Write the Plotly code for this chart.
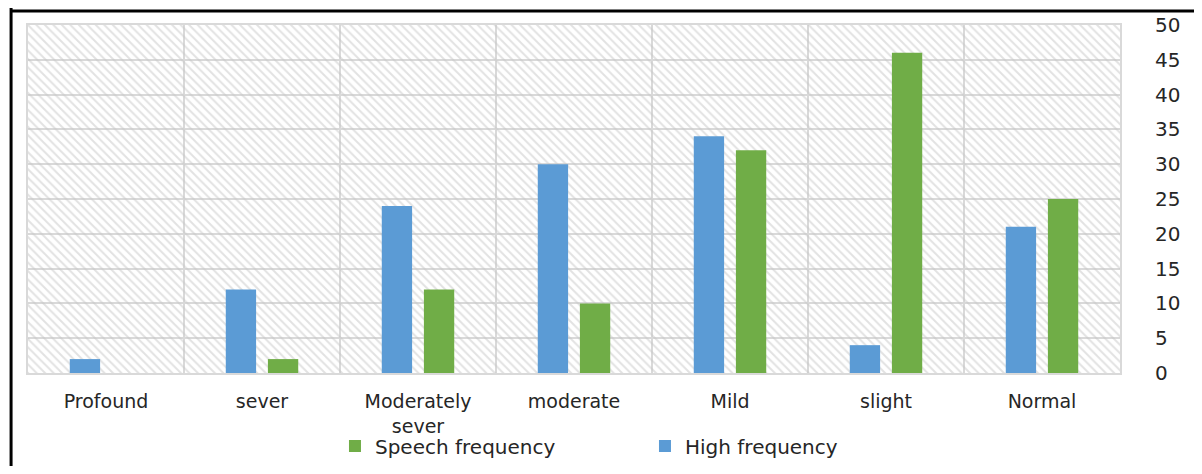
import plotly.graph_objects as go

categories = ["Profound", "sever", "Moderately<br>sever", "moderate", "Mild", "slight", "Normal"]
high_frequency = [2, 12, 24, 30, 34, 4, 21]
speech_frequency = [0, 2, 12, 10, 32, 46, 25]
y_max = 50
y_ticks = [0, 5, 10, 15, 20, 25, 30, 35, 40, 45, 50]

FONT = "DejaVu Sans"
BLUE = "#5b9bd5"
GREEN = "#70ad47"
GRID = "#d9d9d9"
TXT = "#262626"

fig = go.Figure()

# hatched plot-area background (decorative)
fig.add_trace(go.Bar(
    x=[0.5], y=[y_max], width=[1], xaxis="x", yaxis="y",
    marker=dict(color="rgba(0,0,0,0)", line=dict(width=0),
                pattern=dict(shape="\\", fgcolor="#c6c6c6", bgcolor="rgba(0,0,0,0)",
                             size=6, solidity=0.33)),
    showlegend=False, hoverinfo="skip"))

fig.add_trace(go.Bar(
    x=categories, y=high_frequency, name="High frequency", xaxis="x2", yaxis="y",
    marker=dict(color=BLUE, line=dict(width=0)), legendrank=2))
fig.add_trace(go.Bar(
    x=categories, y=speech_frequency, name="Speech frequency", xaxis="x2", yaxis="y",
    marker=dict(color=GREEN, line=dict(width=0)), legendrank=1))

fig.update_layout(
    width=1186, height=458,
    margin=dict(l=20, r=74, t=17, b=93, autoexpand=False),
    paper_bgcolor="white", plot_bgcolor="white",
    barmode="group", bargap=0.46, bargroupgap=0.28,
    font=dict(family=FONT, size=20, color=TXT),
    xaxis=dict(range=[0, 1], visible=False, showgrid=False, zeroline=False, fixedrange=True),
    xaxis2=dict(overlaying="x", side="bottom", type="category", tickson="boundaries",
                showgrid=True, gridcolor=GRID, gridwidth=2, ticks="",
                showline=True, linecolor=GRID, linewidth=2, mirror=True,
                tickfont=dict(family=FONT, size=19, color=TXT),
                ticklabelstandoff=10, zeroline=False, automargin=False),
    yaxis=dict(side="right", range=[0, y_max], tickvals=y_ticks,
               showgrid=True, gridcolor=GRID, gridwidth=2, zeroline=False,
               showline=True, linecolor=GRID, linewidth=2, mirror=True,
               ticks="", ticklabelstandoff=29, automargin=False,
               tickfont=dict(family=FONT, size=20, color=TXT)),
    legend=dict(orientation="h", x=0.565, xanchor="center", y=-0.21, yanchor="middle",
                font=dict(family=FONT, size=20, color=TXT),
                itemwidth=30, entrywidth=265, bgcolor="rgba(0,0,0,0)"),
    shapes=[
        dict(type="line", xref="paper", yref="paper", x0=-0.0155, x1=-0.0155, y0=1.05, y1=-0.29,
             line=dict(color="black", width=3)),
        dict(type="line", xref="paper", yref="paper", x0=-0.0155, x1=1.08, y0=1.04, y1=1.04,
             line=dict(color="black", width=3)),
    ],
)

fig.write_html("out.html")
